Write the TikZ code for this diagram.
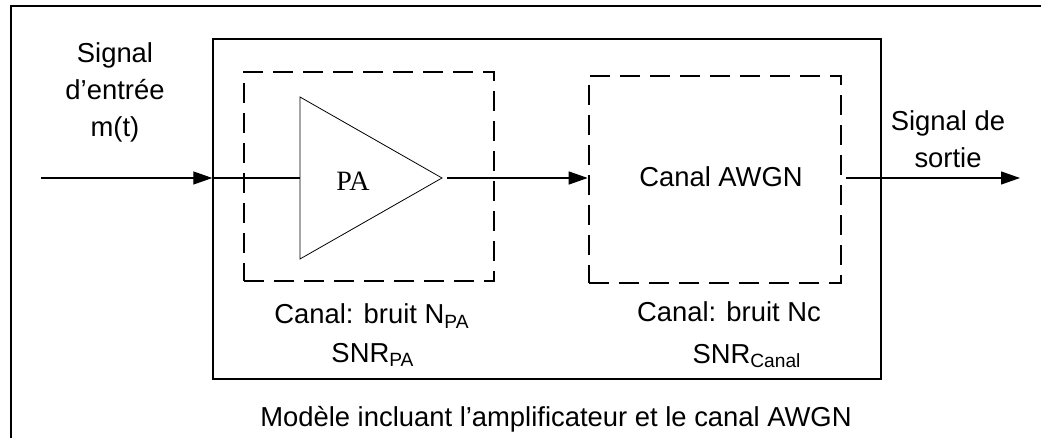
\documentclass[tikz,border=0pt]{standalone}
\usepackage{fontspec}
\setmainfont{Liberation Sans}
\newfontfamily\ampFont{Liberation Serif}
\usepackage{tikz}
\usetikzlibrary{arrows.meta}
\tikzstyle{schema} = [x = .5pt, y = -.5pt]
\tikzstyle{frameLine} = [line width = 1.2pt]
\tikzstyle{modelBox} = [draw, line width = .7pt, inner sep = 0]
\tikzstyle{stageBox} = [draw, line width = 1.3pt, dash pattern = on 10pt off 5pt, inner sep = 0]
\tikzstyle{ampLine} = [line width = .4pt, line join = miter]
\tikzstyle{signalLine} = [line width = .6pt]
\tikzstyle{signalArrow} = [signalLine, -{Triangle[length = 9.5pt, width = 6.5pt]}]
\tikzstyle{labelText} = [font = \labelFont, align = center, inner sep = 0]
\tikzstyle{ampText} = [font = \ampFont\fontsize{14}{16}\selectfont, inner sep = 0]
\newcommand{\labelFont}{\fontsize{13.7}{15.5}\selectfont}
\newcommand{\dashedStage}[5]{\node [stageBox, minimum width = #4, minimum height = #5] (#1) at (#2, #3) {};}

\begin{document}
\begin{tikzpicture}[schema]
      \useasboundingbox (0,0) rectangle (1041,438);
      \draw [frameLine] (11,438) -- (11,6) -- (1041,6);

      \node [modelBox, minimum width = 334pt, minimum height = 170pt] (model) at (547,209) {};
      \dashedStage{paStage}{369}{176.5}{125pt}{104.5pt}
      \dashedStage{awgn}{715}{179.5}{126pt}{103.5pt}

      \coordinate (paTop) at (300,97);
      \coordinate (paBottom) at (300,259);
      \coordinate (paOut) at (442,178);
      \coordinate (paIn) at (paTop |- paOut);
      \draw [ampLine] (paTop) -- (paOut) -- (paBottom) -- cycle;
      \node [ampText] (pa) at (353,181) {PA};
      \node [labelText] (awgnText) at (721,177) {Canal AWGN};

      \coordinate (inStart) at (41,178);
      \coordinate (outEnd) at (1020,178);
      \draw [signalArrow] (inStart) -- (inStart -| model.west);
      \draw [signalLine] (inStart -| model.west) -- (paIn);
      \draw [signalArrow, shorten <= 2.5pt] (paOut) -- (paOut -| awgn.west);
      \draw [signalArrow, shorten <= 2pt] (paOut -| awgn.east) -- (outEnd);

      \node [labelText] (inLabel) at (115,92) {Signal\\[3pt]d’entrée\\[3pt]m(t)};
      \node [labelText] (outLabel) at (948,139) {Signal de\\[3pt]sortie};
      \node [labelText] (paNoise) at (372,316) {Canal: bruit N\textsubscript{PA}};
      \node [labelText] (paSnr) at (373,355) {SNR\textsubscript{PA}};
      \node [labelText] (awgnNoise) at (729,312) {Canal: bruit Nc};
      \node [labelText] (awgnSnr) at (747,356) {SNR\textsubscript{Canal}};
      \node [labelText] (caption) at (556,419) {Modèle incluant l’amplificateur et le canal AWGN};
    \end{tikzpicture}
\end{document}
